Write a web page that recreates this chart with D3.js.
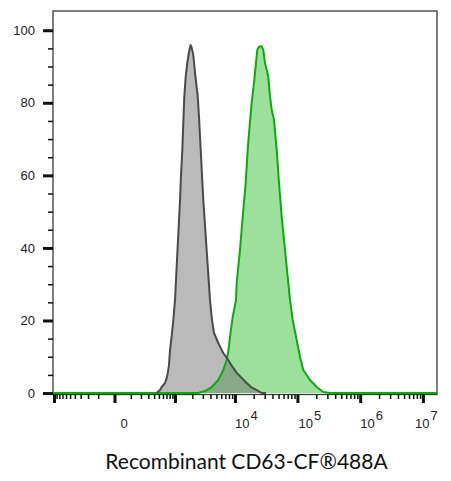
<!DOCTYPE html>
<html>
<head>
<meta charset="utf-8">
<script src="https://cdn.jsdelivr.net/npm/d3@7"></script>
<style>
  html, body { margin: 0; padding: 0; background: #fff; }
  svg { display: block; }
</style>
</head>
<body>
<script>
// ---------- data ----------
const yMajorTicks = [0, 20, 40, 60, 80, 100];
const yMinorTicks = [5, 10, 15, 25, 30, 35, 45, 50, 55, 65, 70, 75, 85, 90, 95];
const xMajorTicks = [-1000, 0, 1000, 1e4, 1e5, 1e6, 1e7];
const xMinorTicks = [
  -900, -800, -700, -600, -500, -400, -300, -200, -100,
  100, 200, 300, 400, 500, 600, 700, 800, 900,
  2e3, 3e3, 4e3, 5e3, 6e3, 7e3, 8e3, 9e3,
  2e4, 3e4, 4e4, 5e4, 6e4, 7e4, 8e4, 9e4,
  2e5, 3e5, 4e5, 5e5, 6e5, 7e5, 8e5, 9e5,
  2e6, 3e6, 4e6, 5e6, 6e6, 7e6, 8e6, 9e6
];
const xLabelValues = [0, 1e4, 1e5, 1e6, 1e7];
const xLabelExponents = ["", "4", "5", "6", "7"];
const axisTitle = "Recombinant CD63-CF®488A";

// Unstained / isotype control (gray)
const grayX = [448, 526, 575, 656, 716, 779, 813, 884, 933, 1001, 1087, 1228, 1278, 1346, 1401, 1458, 1541, 1642, 1755, 1861, 1935, 2075, 2217, 2461, 2586, 2761, 2901, 3049, 3290, 3550, 3787, 3932, 4242, 4573, 5374, 6478, 7807, 8961, 10790, 12980, 15450, 18110, 22350, 27170, 31490];
const grayY = [0, 0.83, 1.8, 2.76, 4.41, 7.72, 11.86, 16.55, 20.1, 25.6, 36.7, 53.2, 60.1, 67.0, 74.5, 81.7, 87.2, 91.0, 94.0, 95.9, 95.4, 93.2, 88.3, 81.7, 76.1, 67.0, 60.1, 53.2, 45.0, 36.7, 29.8, 25.6, 20.1, 16.55, 13.8, 11.0, 9.1, 7.4, 5.5, 4.1, 2.76, 1.65, 0.83, 0, 0];

// Recombinant CD63-CF488A stained (green)
const greenX = [2368, 2518, 3253, 4193, 5374, 6478, 7357, 7870, 8480, 9200, 10400, 10670, 12060, 13320, 14900, 16030, 17010, 18580, 20230, 21780, 22850, 24330, 26670, 28510, 30340, 32300, 34270, 36490, 38850, 42270, 46690, 50800, 56110, 63340, 71500, 76120, 84050, 97360, 109900, 124050, 158660, 202900, 258400, 330400];
const greenY = [0, 0, 0.55, 1.66, 3.59, 6.34, 9.1, 11.86, 16.55, 20.97, 25.66, 30.34, 39.45, 48.55, 57.93, 67.03, 72.55, 80.0, 85.5, 91.0, 94.6, 95.45, 95.6, 94.6, 91.0, 89.1, 87.2, 81.7, 78.1, 75.3, 67.03, 57.93, 48.55, 39.45, 30.34, 25.66, 20.14, 14.62, 9.93, 6.34, 3.59, 1.66, 0.28, 0];

// ---------- layout ----------
const W = 451, H = 481;
const plot = { left: 53, right: 437, top: 11, bottom: 394.5 };
const xDomain = [-1042, 1.675e7];
const yDomain = [-0.4, 105.3];

const svg = d3.select("body").append("svg").attr("width", W).attr("height", H);

const x = d3.scaleSymlog().constant(122).domain(xDomain).range([plot.left, plot.right]);
const y = d3.scaleLinear().domain(yDomain).range([plot.bottom, plot.top]);

const toPts = (xs, ys) => xs.map((v, i) => [v, ys[i]]);
const grayPts = toPts(grayX, grayY);
const greenPts = [[xDomain[0], 0]].concat(toPts(greenX, greenY), [[xDomain[1], 0]]);

const area = d3.area().x(d => x(d[0])).y0(y(0)).y1(d => y(d[1]));
const line = d3.line().x(d => x(d[0])).y(d => y(d[1]));

// frame
svg.append("rect")
  .attr("x", plot.left).attr("y", plot.top)
  .attr("width", plot.right - plot.left).attr("height", plot.bottom - plot.top)
  .attr("fill", "none").attr("stroke", "#3a3a3a").attr("stroke-width", 1.3);

// fills
svg.append("path").datum(greenPts).attr("d", area).attr("fill", "#9de09b");
svg.append("path").datum(grayPts).attr("d", area).attr("fill", "#6e6e6e").attr("fill-opacity", 0.48);
// strokes
svg.append("path").datum(greenPts).attr("d", line).attr("fill", "none")
  .attr("stroke", "#08ad08").attr("stroke-width", 2).attr("stroke-linejoin", "round");
svg.append("path").datum(grayPts).attr("d", line).attr("fill", "none")
  .attr("stroke", "#4a4a4a").attr("stroke-width", 2).attr("stroke-linejoin", "round");

// ---------- y axis ----------
const yMinorAxis = svg.append("g").attr("transform", `translate(${plot.left},0)`)
  .call(d3.axisLeft(y).tickValues(yMinorTicks).tickSize(5).tickFormat(""));
yMinorAxis.select(".domain").remove();
yMinorAxis.selectAll(".tick line").attr("stroke", "#111").attr("stroke-width", 1.5);

const yAxis = svg.append("g").attr("transform", `translate(${plot.left},0)`)
  .call(d3.axisLeft(y).tickValues(yMajorTicks).tickSize(10).tickPadding(8).tickFormat(d3.format("d")));
yAxis.select(".domain").remove();
yAxis.selectAll(".tick line").attr("stroke", "#111").attr("stroke-width", 3);
yAxis.selectAll(".tick text")
  .attr("font-family", "'Liberation Sans', Arial, sans-serif")
  .attr("font-size", 13).attr("fill", "#222");

// ---------- x axis ----------
const xMinorAxis = svg.append("g").attr("transform", `translate(0,${plot.bottom})`)
  .call(d3.axisBottom(x).tickValues(xMinorTicks).tickSize(4.5).tickFormat(""));
xMinorAxis.select(".domain").remove();
xMinorAxis.selectAll(".tick line").attr("stroke", "#111").attr("stroke-width", 1.5);

const xAxis = svg.append("g").attr("transform", `translate(0,${plot.bottom})`)
  .call(d3.axisBottom(x).tickValues(xMajorTicks).tickSize(8.5).tickFormat(""));
xAxis.select(".domain").remove();
xAxis.selectAll(".tick line").attr("stroke", "#111").attr("stroke-width", 3);

const labelDx = [6, 0, 1, 0, -8];
const lbl = svg.append("g")
  .attr("font-family", "'Liberation Sans', Arial, sans-serif")
  .attr("font-size", 13).attr("fill", "#222");
xLabelValues.forEach((v, i) => {
  const t = lbl.append("text")
    .attr("x", x(v) + labelDx[i]).attr("y", 427.5);
  if (xLabelExponents[i] === "") {
    t.text("0");
  } else {
    t.append("tspan").text("10");
    t.append("tspan").attr("dx", 1).attr("dy", -8).text(xLabelExponents[i]);
  }
});

// axis title
svg.append("text")
  .attr("x", 246.5).attr("y", 468.5)
  .attr("text-anchor", "middle")
  .attr("font-family", "Lato, 'Open Sans', sans-serif")
  .attr("font-size", 21).attr("fill", "#111")
  .text(axisTitle);
</script>
</body>
</html>
